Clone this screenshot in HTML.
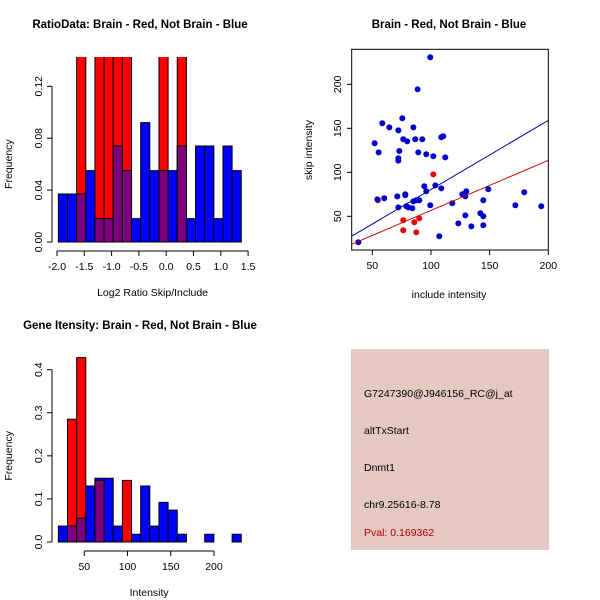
<!DOCTYPE html>
<html><head><meta charset="utf-8"><style>
body{margin:0;background:#fff}
svg{display:block;font-family:"Liberation Sans",sans-serif}
</style></head><body>
<svg id="c" width="600" height="600" viewBox="0 0 600 600" xmlns="http://www.w3.org/2000/svg">
<rect x="351" y="349" width="198" height="201" fill="#e6c8c2"/>
<g font-size="10.5">
<text x="364" y="397">G7247390@J946156_RC@j_at</text>
<text x="364" y="434">altTxStart</text>
<text x="364" y="471">Dnmt1</text>
<text x="364" y="508">chr9.25616-8.78</text>
<text x="364" y="536" fill="#b00000">Pval: 0.169362</text>
</g>
</svg>
<script>
// ---- Ratio histogram data ----
const ratioBinStart=-1.975, ratioBinWidth=0.1675;
const ratioBlue=[0.037,0.037,0.037,0.055,0.018,0.018,0.074,0.055,0.018,0.092,0.055,0.055,0.055,0.074,0.018,0.074,0.074,0.018,0.074,0.055];
const ratioRed=[0,0,0.2,0,0.2,0.2,0.2,0.2,0,0,0,0.2,0,0.2,0,0,0,0,0,0];
const ratioXTicks=[-2.0,-1.5,-1.0,-0.5,0.0,0.5,1.0,1.5];
const ratioYTicks=[0.00,0.04,0.08,0.12];
// ---- Intensity histogram data ----
const intBinStart=20, intBinWidth=10.58;
const intBlue=[0.037,0.037,0.055,0.13,0.148,0.148,0.037,0,0.018,0.13,0.037,0.092,0.074,0.018,0,0,0.018,0,0,0.018];
const intRed=[0,0.285,0.428,0,0.143,0,0,0.143,0,0,0,0,0,0,0,0,0,0,0,0];
const intXTicks=[50,100,150,200];
const intYTicks=[0.0,0.1,0.2,0.3,0.4];
// ---- Scatter data ----
const blueX=[99.4,88.6,58.5,75.6,64.5,72.2,85,52,55.4,73,76.4,79.8,86.6,92.6,72.2,72.2,89.2,96,102,112.2,108.8,110.5,94.3,103.7,96,108.8,71.3,78.1,78.1,54.3,60.2,87.5,90,85,72.2,79,80.7,84.1,99.4,118.2,126.7,130.1,129.3,148.9,144.6,129.3,142.1,144.6,123.3,134.4,144.6,107.1,38.1,171.9,179.5,194];
const blueY=[230.7,194.3,155.7,161.4,151.1,147.7,151.1,133,122.7,124.2,137.5,135.2,137.5,137.5,115.9,113.3,122.7,120.5,118.2,117,139.8,140.9,84.1,85.2,78.4,81.8,72.7,75,73.9,69.3,70.5,68.2,68.2,67,60.2,61.4,60.2,59.1,62.5,64.8,75,78.4,72.7,80.7,68.2,51.1,53.4,50,42,38.6,39.8,27.3,20.5,62.5,77.3,61.4];
const redX=[54.8,102,76.4,85.8,90,76.4,87.5];
const redY=[68.2,97.7,45.5,43.2,47.7,34.1,31.8];
const blueFit=[1.83,0.786], redFit=[-0.24,0.569];
const scXTicks=[50,100,150,200], scYTicks=[50,100,150,200];

const svg=document.getElementById('c');
const NS='http://www.w3.org/2000/svg';
const TF=10.5, TTF=11.5;
function mk(tag,at,parent){const e=document.createElementNS(NS,tag);for(const k in at)e.setAttribute(k,at[k]);(parent||svg).appendChild(e);return e;}
function txt(s,x,y,at,parent){const e=mk('text',Object.assign({x:x,y:y},at),parent);e.textContent=s;return e;}

function hist(name,start,w,blue,red,sx,sy,clipY,xT,yT,xlab,title,titleX,titleY,fmtY,fmtX){
  const g=mk('g',{});
  
  
  const cid=name+'-clip';
  const cp=mk('clipPath',{id:cid},g);mk('rect',{x:0,y:clipY,width:600,height:600},cp);
  const bars=mk('g',{'clip-path':'url(#'+cid+')'},g);
  for(let i=0;i<blue.length;i++){
    const x0=sx(start+i*w),x1=sx(start+(i+1)*w);
    const b=blue[i],r=red[i],m=Math.min(b,r);
    if(Math.max(b,r)<=0)continue;
    const rect=(v,col)=>mk('rect',{x:x0,y:sy(v),width:x1-x0,height:sy(0)-sy(v),fill:col,stroke:'#000','stroke-width':1},bars);
    if(r>0){const e=rect(r,'#ff0000');}
    if(b>0){const e=rect(b,'#0000ff');}
    if(m>0){const e=rect(m,'#7f007f');}
  }
  const ax=sx.axisX;
  mk('line',{x1:ax,y1:sy(yT[0]),x2:ax,y2:sy(yT[yT.length-1]),stroke:'#000'},g);
  yT.forEach(v=>{mk('line',{x1:ax-5,y1:sy(v),x2:ax,y2:sy(v),stroke:'#000'},g);
    txt(fmtY(v),ax-10,sy(v),{'font-size':TF,'text-anchor':'middle',transform:'rotate(-90 '+(ax-10)+' '+sy(v)+')'},g);});
  const ay=sy(0)+9;
  mk('line',{x1:sx(xT[0]),y1:ay,x2:sx(xT[xT.length-1]),y2:ay,stroke:'#000'},g);
  xT.forEach(v=>{mk('line',{x1:sx(v),y1:ay,x2:sx(v),y2:ay+5,stroke:'#000'},g);
    txt(fmtX(v),sx(v),ay+19,{'font-size':TF,'text-anchor':'middle'},g);});
  const yc=(sy(yT[0])+sy(yT[yT.length-1]))/2;
  const yl=txt('Frequency',12,yc,{'font-size':TF,'text-anchor':'middle',transform:'rotate(-90 12 '+yc+')'},g);
  
  const xl=txt(xlab,(sx(xT[0])+sx(xT[xT.length-1]))/2,ay+45,{'font-size':TF,'text-anchor':'middle'},g);
  
  const t=txt(title,titleX,titleY,{'font-size':TTF,'font-weight':'bold','text-anchor':'middle'},g);
  
}
const rsx=v=>57+(v+2)*54.6; rsx.axisX=52;
const rsy=v=>242-v*1297.5;
hist('ratio-histogram',ratioBinStart,ratioBinWidth,ratioBlue,ratioRed,rsx,rsy,57,ratioXTicks,ratioYTicks,'Log2 Ratio Skip/Include','RatioData: Brain - Red, Not Brain - Blue',140,28,v=>v.toFixed(2),v=>v.toFixed(1));
const isx=v=>84.3+(v-50)*0.8644; isx.axisX=52;
const isy=v=>542-v*430.8;
hist('intensity-histogram',intBinStart,intBinWidth,intBlue,intRed,isx,isy,0,intXTicks,intYTicks,'Intensity','Gene Itensity: Brain - Red, Not Brain - Blue',140,329,v=>v.toFixed(1),v=>String(v));

const px=v=>372.3+(v-50)*1.1733, py=v=>216.3-(v-50)*0.88;
const sg=mk('g',{});


const scp=mk('clipPath',{id:'scl'},sg);
mk('rect',{x:352,y:49,width:196,height:201},scp);
const L=mk('g',{'clip-path':'url(#scl)'},sg);
function fit(f,col,name){const x0=32.4,x1=200;const e=mk('line',{x1:px(x0),y1:py(f[0]+f[1]*x0),x2:px(x1),y2:py(f[0]+f[1]*x1),stroke:col,'stroke-width':1},L);
  }
{const e=mk('circle',{cx:px(redX[0]),cy:py(redY[0]),r:3,fill:'#ee0000'},L);
  }
blueX.forEach((x,i)=>{const e=mk('circle',{cx:px(x),cy:py(blueY[i]),r:3,fill:'#0000cc'},L);
  });
redX.slice(1).forEach((x,i)=>{const e=mk('circle',{cx:px(x),cy:py(redY[i+1]),r:3,fill:'#ee0000'},L);
  });
fit(blueFit,'#0000aa','blue-fit-line');
fit(redFit,'#cc0000','red-fit-line');
mk('rect',{x:351.7,y:49.3,width:196.6,height:200.7,fill:'none',stroke:'#000'},sg);
scXTicks.forEach(v=>{mk('line',{x1:px(v),y1:250,x2:px(v),y2:255,stroke:'#000'},sg);txt(String(v),px(v),269,{'font-size':TF,'text-anchor':'middle'},sg);});
scYTicks.forEach(v=>{mk('line',{x1:347,y1:py(v),x2:351.7,y2:py(v),stroke:'#000'},sg);txt(String(v),341,py(v),{'font-size':TF,'text-anchor':'middle',transform:'rotate(-90 341 '+py(v)+')'},sg);});
const sxl=txt('include intensity',449,298,{'font-size':TF,'text-anchor':'middle'},sg);

const syl=txt('skip intensity',312,150,{'font-size':TF,'text-anchor':'middle',transform:'rotate(-90 312 150)'},sg);

const st=txt('Brain - Red, Not Brain - Blue',449,28,{'font-size':TTF,'font-weight':'bold','text-anchor':'middle'},sg);

</script>
</body></html>
